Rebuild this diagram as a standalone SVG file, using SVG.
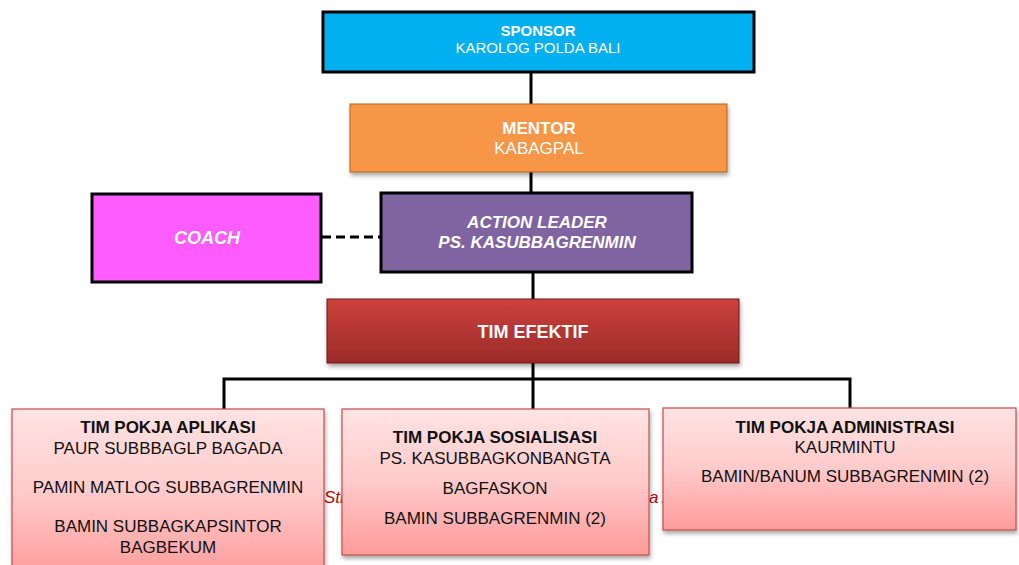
<svg xmlns="http://www.w3.org/2000/svg" width="1019" height="565" viewBox="0 0 1019 565">
<defs>
<linearGradient id="gRed" x1="0" y1="0" x2="0" y2="1">
<stop offset="0" stop-color="#CD413E"/>
<stop offset="1" stop-color="#9A2B28"/>
</linearGradient>
<linearGradient id="gPink" x1="0" y1="0" x2="0" y2="1">
<stop offset="0" stop-color="#FFE3E3"/>
<stop offset="0.5" stop-color="#FFCACA"/>
<stop offset="1" stop-color="#FF9A9A"/>
</linearGradient>
<filter id="sh" x="-5%" y="-5%" width="115%" height="125%">
<feDropShadow dx="1" dy="3" stdDeviation="2" flood-color="#000" flood-opacity="0.35"/>
</filter>
</defs>
<style>
text{font-family:"Liberation Sans",Arial,sans-serif;text-anchor:middle}
.w{fill:#fff}
.k{fill:#111}
.b{font-weight:bold}
.bi{font-weight:bold;font-style:italic}
.thick{stroke:#000;stroke-width:3}
.pink{fill:url(#gPink);stroke:#C0504D;stroke-width:1.2;filter:url(#sh)}
.con{stroke:#000;stroke-width:3;fill:none}
.hid{fill:#C00000;font-style:italic;font-size:17px;text-anchor:start}
</style>
<rect width="1019" height="565" fill="#fff"/>
<text class="hid" x="324" y="503">Str</text>
<text class="hid" x="649" y="503">a A</text>
<g id="connectors">
<line class="con" x1="531" y1="72" x2="531" y2="104"/>
<line class="con" x1="531" y1="172" x2="531" y2="192"/>
<line class="con" x1="533" y1="272" x2="533" y2="300"/>
<line class="con" x1="533" y1="363" x2="533" y2="409"/>
<polyline class="con" points="224,409 224,379 850,379 850,408"/>
<line x1="322" y1="237" x2="381" y2="237" stroke="#000" stroke-width="3" stroke-dasharray="9,5"/>
</g>
<g id="sponsor">
<rect x="323" y="12" width="431" height="60" fill="#00B0F0" class="thick"/>
<text class="w b" x="538" y="36" font-size="15">SPONSOR</text>
<text class="w" x="538" y="53" font-size="15">KAROLOG POLDA BALI</text>
</g>
<g id="mentor">
<rect x="350" y="104" width="377" height="68" fill="#F79646" stroke="#B5651D" stroke-width="1" filter="url(#sh)"/>
<text class="w b" x="539" y="134" font-size="17">MENTOR</text>
<text class="w" x="539" y="154" font-size="17">KABAGPAL</text>
</g>
<g id="coach">
<rect x="92" y="194" width="229" height="88" fill="#FF5CFF" class="thick"/>
<text class="w bi" x="207" y="244" font-size="18">COACH</text>
</g>
<g id="action-leader">
<rect x="381" y="193" width="311" height="79" fill="#8064A2" class="thick"/>
<text class="w bi" x="537" y="228" font-size="17">ACTION LEADER</text>
<text class="w bi" x="537" y="248" font-size="17">PS. KASUBBAGRENMIN</text>
</g>
<g id="tim-efektif">
<rect x="327" y="299" width="412" height="64" fill="url(#gRed)" stroke="#6E1D1B" stroke-width="1" filter="url(#sh)"/>
<text class="w b" x="533" y="338" font-size="18">TIM EFEKTIF</text>
</g>
<g id="pokja-aplikasi">
<rect x="12" y="409" width="312" height="170" class="pink"/>
<text class="k b" x="168" y="433" font-size="17">TIM POKJA APLIKASI</text>
<text class="k" x="168" y="454" font-size="17">PAUR SUBBBAGLP BAGADA</text>
<text class="k" x="168" y="493" font-size="17">PAMIN MATLOG SUBBAGRENMIN</text>
<text class="k" x="168" y="532" font-size="17">BAMIN SUBBAGKAPSINTOR</text>
<text class="k" x="168" y="553" font-size="17">BAGBEKUM</text>
</g>
<g id="pokja-sosialisasi">
<rect x="342" y="409" width="307" height="146" class="pink"/>
<text class="k b" x="495" y="443" font-size="17">TIM POKJA SOSIALISASI</text>
<text class="k" x="495" y="464" font-size="17">PS. KASUBBAGKONBANGTA</text>
<text class="k" x="495" y="494" font-size="17">BAGFASKON</text>
<text class="k" x="495" y="524" font-size="17">BAMIN SUBBAGRENMIN (2)</text>
</g>
<g id="pokja-administrasi">
<rect x="663" y="408" width="353" height="122" class="pink"/>
<text class="k b" x="845" y="433" font-size="17">TIM POKJA ADMINISTRASI</text>
<text class="k" x="845" y="453" font-size="17">KAURMINTU</text>
<text class="k" x="845" y="482" font-size="17">BAMIN/BANUM SUBBAGRENMIN (2)</text>
</g>
</svg>
